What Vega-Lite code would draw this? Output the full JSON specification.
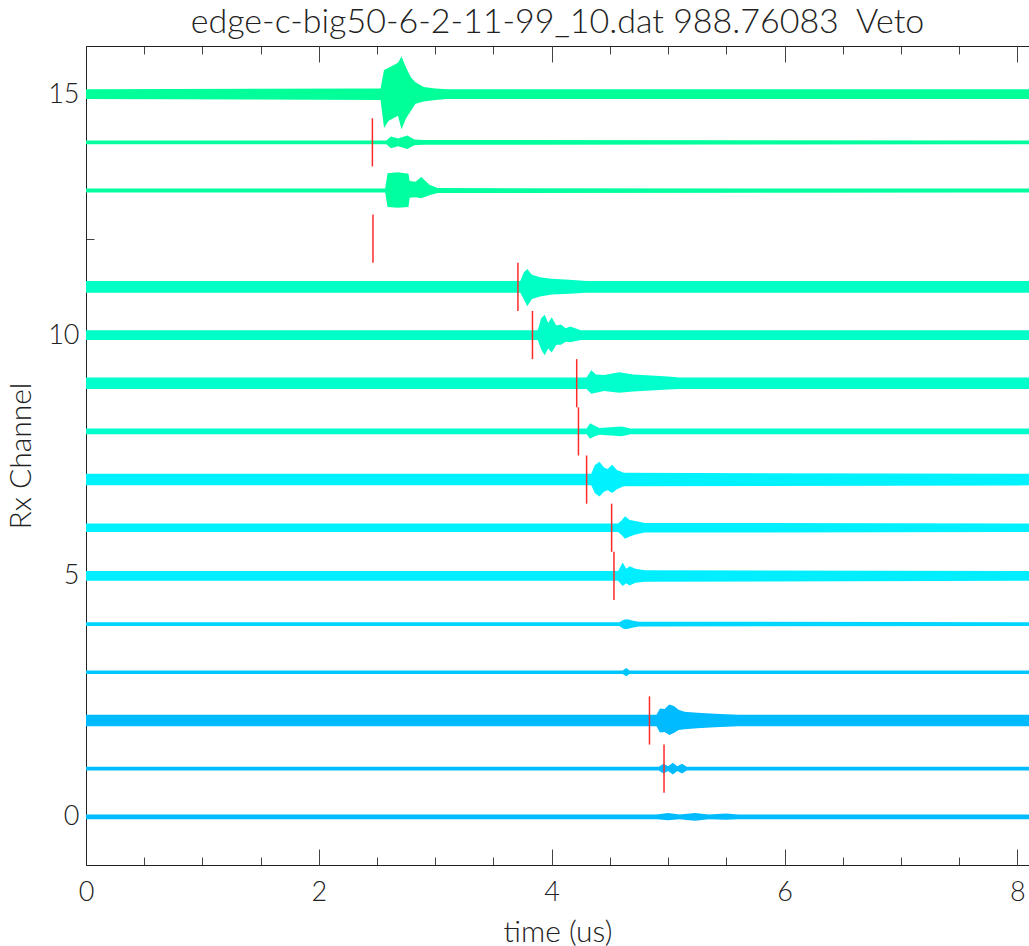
{
  "$schema": "https://vega.github.io/schema/vega-lite/v6.json",
  "autosize": {"type": "none"},
  "padding": {"left": 86, "top": 46, "right": 0, "bottom": 81},
  "width": 943,
  "height": 819,
  "background": "white",
  "title": {
    "text": "edge-c-big50-6-2-11-99_10.dat 988.76083\u00a0 Veto",
    "font": "Lato",
    "fontWeight": 300,
    "fontSize": 34,
    "color": "#222",
    "anchor": "middle",
    "offset": 6
  },
  "datasets": {
    "traces": [
      {"ch":15,"t":0,"hi":15.1,"lo":14.9},{"ch":15,"t":2.53,"hi":15.12,"lo":14.88},{"ch":15,"t":2.56,"hi":15.5,"lo":14.3},{"ch":15,"t":2.6,"hi":15.55,"lo":14.45},{"ch":15,"t":2.64,"hi":15.6,"lo":14.5},{"ch":15,"t":2.68,"hi":15.65,"lo":14.55},{"ch":15,"t":2.71,"hi":15.78,"lo":14.27},{"ch":15,"t":2.75,"hi":15.55,"lo":14.5},{"ch":15,"t":2.79,"hi":15.35,"lo":14.65},{"ch":15,"t":2.83,"hi":15.25,"lo":14.8},{"ch":15,"t":2.9,"hi":15.15,"lo":14.85},{"ch":15,"t":3.0,"hi":15.12,"lo":14.88},{"ch":15,"t":3.1,"hi":15.1,"lo":14.9},{"ch":15,"t":8.1,"hi":15.1,"lo":14.9},
      {"ch":14,"t":0,"hi":14.04,"lo":13.96},{"ch":14,"t":2.58,"hi":14.04,"lo":13.96},{"ch":14,"t":2.62,"hi":14.12,"lo":13.88},{"ch":14,"t":2.68,"hi":14.08,"lo":13.92},{"ch":14,"t":2.76,"hi":14.14,"lo":13.86},{"ch":14,"t":2.82,"hi":14.06,"lo":13.94},{"ch":14,"t":2.9,"hi":14.05,"lo":13.95},{"ch":14,"t":8.1,"hi":14.04,"lo":13.96},
      {"ch":13,"t":0,"hi":13.04,"lo":12.96},{"ch":13,"t":2.57,"hi":13.04,"lo":12.96},{"ch":13,"t":2.59,"hi":13.36,"lo":12.66},{"ch":13,"t":2.68,"hi":13.38,"lo":12.64},{"ch":13,"t":2.77,"hi":13.35,"lo":12.66},{"ch":13,"t":2.78,"hi":13.2,"lo":12.85},{"ch":13,"t":2.83,"hi":13.18,"lo":12.86},{"ch":13,"t":2.88,"hi":13.28,"lo":12.84},{"ch":13,"t":2.95,"hi":13.12,"lo":12.9},{"ch":13,"t":3.02,"hi":13.05,"lo":12.95},{"ch":13,"t":8.1,"hi":13.04,"lo":12.96},
      {"ch":11,"t":0,"hi":11.12,"lo":10.88},{"ch":11,"t":3.73,"hi":11.12,"lo":10.88},{"ch":11,"t":3.76,"hi":11.3,"lo":10.75},{"ch":11,"t":3.79,"hi":11.37,"lo":10.6},{"ch":11,"t":3.83,"hi":11.25,"lo":10.75},{"ch":11,"t":3.9,"hi":11.2,"lo":10.8},{"ch":11,"t":4.0,"hi":11.17,"lo":10.84},{"ch":11,"t":4.15,"hi":11.15,"lo":10.86},{"ch":11,"t":4.3,"hi":11.12,"lo":10.88},{"ch":11,"t":8.1,"hi":11.12,"lo":10.88},
      {"ch":10,"t":0,"hi":10.1,"lo":9.9},{"ch":10,"t":3.88,"hi":10.1,"lo":9.9},{"ch":10,"t":3.91,"hi":10.35,"lo":9.7},{"ch":10,"t":3.94,"hi":10.42,"lo":9.58},{"ch":10,"t":3.97,"hi":10.25,"lo":9.72},{"ch":10,"t":4.0,"hi":10.37,"lo":9.64},{"ch":10,"t":4.04,"hi":10.2,"lo":9.8},{"ch":10,"t":4.08,"hi":10.22,"lo":9.8},{"ch":10,"t":4.12,"hi":10.14,"lo":9.86},{"ch":10,"t":4.16,"hi":10.18,"lo":9.85},{"ch":10,"t":4.25,"hi":10.1,"lo":9.9},{"ch":10,"t":8.1,"hi":10.1,"lo":9.9},
      {"ch":9,"t":0,"hi":9.12,"lo":8.88},{"ch":9,"t":4.3,"hi":9.12,"lo":8.88},{"ch":9,"t":4.34,"hi":9.27,"lo":8.78},{"ch":9,"t":4.38,"hi":9.18,"lo":8.8},{"ch":9,"t":4.45,"hi":9.17,"lo":8.84},{"ch":9,"t":4.58,"hi":9.23,"lo":8.8},{"ch":9,"t":4.7,"hi":9.18,"lo":8.83},{"ch":9,"t":4.85,"hi":9.16,"lo":8.85},{"ch":9,"t":5.0,"hi":9.14,"lo":8.87},{"ch":9,"t":5.1,"hi":9.12,"lo":8.88},{"ch":9,"t":8.1,"hi":9.12,"lo":8.88},
      {"ch":8,"t":0,"hi":8.06,"lo":7.94},{"ch":8,"t":4.3,"hi":8.06,"lo":7.94},{"ch":8,"t":4.33,"hi":8.17,"lo":7.85},{"ch":8,"t":4.37,"hi":8.12,"lo":7.9},{"ch":8,"t":4.41,"hi":8.07,"lo":7.93},{"ch":8,"t":4.6,"hi":8.1,"lo":7.9},{"ch":8,"t":4.68,"hi":8.06,"lo":7.94},{"ch":8,"t":8.1,"hi":8.06,"lo":7.94},
      {"ch":7,"t":0,"hi":7.12,"lo":6.88},{"ch":7,"t":4.34,"hi":7.12,"lo":6.88},{"ch":7,"t":4.37,"hi":7.3,"lo":6.72},{"ch":7,"t":4.41,"hi":7.37,"lo":6.65},{"ch":7,"t":4.45,"hi":7.25,"lo":6.75},{"ch":7,"t":4.48,"hi":7.22,"lo":6.78},{"ch":7,"t":4.52,"hi":7.31,"lo":6.72},{"ch":7,"t":4.56,"hi":7.2,"lo":6.8},{"ch":7,"t":4.62,"hi":7.14,"lo":6.86},{"ch":7,"t":8.1,"hi":7.12,"lo":6.88},
      {"ch":6,"t":0,"hi":6.09,"lo":5.91},{"ch":6,"t":4.57,"hi":6.09,"lo":5.91},{"ch":6,"t":4.6,"hi":6.15,"lo":5.85},{"ch":6,"t":4.63,"hi":6.24,"lo":5.77},{"ch":6,"t":4.67,"hi":6.16,"lo":5.82},{"ch":6,"t":4.72,"hi":6.14,"lo":5.86},{"ch":6,"t":4.8,"hi":6.1,"lo":5.9},{"ch":6,"t":8.1,"hi":6.09,"lo":5.91},
      {"ch":5,"t":0,"hi":5.1,"lo":4.9},{"ch":5,"t":4.57,"hi":5.1,"lo":4.9},{"ch":5,"t":4.61,"hi":5.28,"lo":4.79},{"ch":5,"t":4.64,"hi":5.15,"lo":4.85},{"ch":5,"t":4.67,"hi":5.2,"lo":4.8},{"ch":5,"t":4.72,"hi":5.15,"lo":4.86},{"ch":5,"t":4.8,"hi":5.12,"lo":4.88},{"ch":5,"t":8.1,"hi":5.1,"lo":4.9},
      {"ch":4,"t":0,"hi":4.04,"lo":3.96},{"ch":4,"t":4.58,"hi":4.04,"lo":3.96},{"ch":4,"t":4.62,"hi":4.09,"lo":3.9},{"ch":4,"t":4.65,"hi":4.1,"lo":3.9},{"ch":4,"t":4.7,"hi":4.07,"lo":3.93},{"ch":4,"t":4.75,"hi":4.05,"lo":3.95},{"ch":4,"t":8.1,"hi":4.04,"lo":3.96},
      {"ch":3,"t":0,"hi":3.035,"lo":2.965},{"ch":3,"t":4.61,"hi":3.035,"lo":2.965},{"ch":3,"t":4.64,"hi":3.09,"lo":2.92},{"ch":3,"t":4.67,"hi":3.035,"lo":2.965},{"ch":3,"t":8.1,"hi":3.035,"lo":2.965},
      {"ch":2,"t":0,"hi":2.12,"lo":1.88},{"ch":2,"t":4.9,"hi":2.12,"lo":1.88},{"ch":2,"t":4.93,"hi":2.25,"lo":1.75},{"ch":2,"t":4.97,"hi":2.24,"lo":1.76},{"ch":2,"t":5.01,"hi":2.33,"lo":1.7},{"ch":2,"t":5.05,"hi":2.3,"lo":1.74},{"ch":2,"t":5.09,"hi":2.22,"lo":1.8},{"ch":2,"t":5.14,"hi":2.18,"lo":1.82},{"ch":2,"t":5.25,"hi":2.16,"lo":1.84},{"ch":2,"t":5.4,"hi":2.14,"lo":1.86},{"ch":2,"t":5.6,"hi":2.12,"lo":1.88},{"ch":2,"t":8.1,"hi":2.12,"lo":1.88},
      {"ch":1,"t":0,"hi":1.04,"lo":0.96},{"ch":1,"t":4.92,"hi":1.04,"lo":0.96},{"ch":1,"t":4.96,"hi":1.1,"lo":0.9},{"ch":1,"t":5.0,"hi":1.05,"lo":0.95},{"ch":1,"t":5.04,"hi":1.12,"lo":0.88},{"ch":1,"t":5.08,"hi":1.05,"lo":0.95},{"ch":1,"t":5.12,"hi":1.1,"lo":0.9},{"ch":1,"t":5.16,"hi":1.04,"lo":0.96},{"ch":1,"t":8.1,"hi":1.04,"lo":0.96},
      {"ch":0,"t":0,"hi":0.05,"lo":-0.05},{"ch":0,"t":4.9,"hi":0.05,"lo":-0.05},{"ch":0,"t":5.0,"hi":0.08,"lo":-0.07},{"ch":0,"t":5.1,"hi":0.05,"lo":-0.05},{"ch":0,"t":5.23,"hi":0.08,"lo":-0.08},{"ch":0,"t":5.35,"hi":0.05,"lo":-0.05},{"ch":0,"t":5.5,"hi":0.07,"lo":-0.06},{"ch":0,"t":5.6,"hi":0.05,"lo":-0.05},{"ch":0,"t":8.1,"hi":0.05,"lo":-0.05}
    ],
    "picks": [
      {"ch":14,"t":2.46,"lo":13.5,"hi":14.5},
      {"ch":12,"t":2.465,"lo":11.5,"hi":12.5},
      {"ch":11,"t":3.71,"lo":10.5,"hi":11.5},
      {"ch":10,"t":3.835,"lo":9.5,"hi":10.5},
      {"ch":9,"t":4.215,"lo":8.5,"hi":9.5},
      {"ch":8,"t":4.23,"lo":7.5,"hi":8.5},
      {"ch":7,"t":4.3,"lo":6.5,"hi":7.5},
      {"ch":6,"t":4.515,"lo":5.5,"hi":6.5},
      {"ch":5,"t":4.535,"lo":4.5,"hi":5.5},
      {"ch":2,"t":4.84,"lo":1.5,"hi":2.5},
      {"ch":1,"t":4.965,"lo":0.5,"hi":1.5}
    ]
  },
  "config": {
    "view": {"stroke": null},
    "axis": {
      "grid": false,
      "domainColor": "#222",
      "tickColor": "#444",
      "labelColor": "#222",
      "titleColor": "#222",
      "labelFont": "Lato",
      "titleFont": "Lato",
      "labelFontWeight": 300,
      "titleFontWeight": 300,
      "labelFontSize": 27,
      "titleFontSize": 30,
      "labelOverlap": false,
      "labelFlush": false,
      "tickWidth": 1,
      "domainWidth": 1
    }
  },
  "resolve": {"axis": {"x": "independent", "y": "independent"}},
  "layer": [
    {
      "data": {"name": "traces"},
      "mark": {"type": "area", "interpolate": "linear", "opacity": 1},
      "encoding": {
        "x": {"field": "t", "type": "quantitative",
              "scale": {"domain": [0, 8.1], "nice": false, "zero": false},
              "axis": {"orient": "bottom", "values": [0,0.5,1,1.5,2,2.5,3,3.5,4,4.5,5,5.5,6,6.5,7,7.5,8],
                       "tickSize": -8, "labelPadding": 22, "title": "time (us)", "titlePadding": 12,
                       "labelExpr": "datum.value % 2 === 0 ? format(datum.value, 'd') : ''"}},
        "y": {"field": "hi", "type": "quantitative",
              "scale": {"domain": [-1, 16], "nice": false, "zero": false},
              "axis": {"orient": "left", "values": [0,1,2,3,4,5,6,7,8,9,10,11,12,13,14,15],
                       "tickSize": -8, "labelPadding": 15, "title": "Rx Channel", "titlePadding": 11,
                       "labelExpr": "datum.value % 5 === 0 ? format(datum.value, 'd') : ''"}},
        "y2": {"field": "lo"},
        "color": {"field": "ch", "type": "nominal",
                  "scale": {"domain": [0,1,2,3,4,5,6,7,8,9,10,11,13,14,15],
                            "range": ["#00bbff","#00bbff","#00bbff","#00c6ff","#00d6ff","#00eeff","#00f0ff","#00f2ff","#00ffcc","#00ffcc","#00ffc8","#00ffc4","#00ff9f","#00ff9c","#00ff99"]},
                  "legend": null}
      }
    },
    {
      "data": {"name": "picks"},
      "mark": {"type": "rule", "color": "#ff2a2a", "strokeWidth": 1.5},
      "encoding": {
        "x": {"field": "t", "type": "quantitative",
              "axis": {"orient": "bottom", "values": [0,2,4,6,8], "tickSize": -16, "labels": false, "domain": false, "title": null}},
        "y": {"field": "lo", "type": "quantitative",
              "axis": {"orient": "left", "values": [0,5,10,15], "tickSize": -16, "labels": false, "domain": false, "title": null}},
        "y2": {"field": "hi"}
      }
    },
    {
      "data": {"name": "picks"},
      "mark": {"type": "rule", "opacity": 0},
      "encoding": {
        "x": {"field": "t", "type": "quantitative",
              "axis": {"orient": "top", "values": [0,0.5,1,1.5,2,2.5,3,3.5,4,4.5,5,5.5,6,6.5,7,7.5,8], "tickSize": -8, "labels": false, "domain": true, "title": null}},
        "y": {"field": "lo", "type": "quantitative", "axis": null},
        "y2": {"field": "hi"}
      }
    },
    {
      "data": {"name": "picks"},
      "mark": {"type": "rule", "opacity": 0},
      "encoding": {
        "x": {"field": "t", "type": "quantitative",
              "axis": {"orient": "top", "values": [0,2,4,6,8], "tickSize": -16, "labels": false, "domain": false, "title": null}},
        "y": {"field": "lo", "type": "quantitative", "axis": null},
        "y2": {"field": "hi"}
      }
    }
  ]
}
